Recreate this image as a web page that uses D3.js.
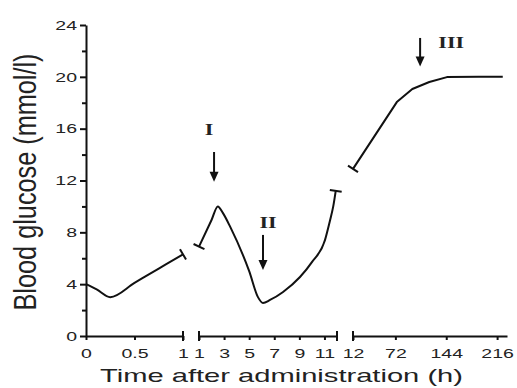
<!DOCTYPE html>
<html>
<head>
<meta charset="utf-8">
<script src="https://cdn.jsdelivr.net/npm/d3@7"></script>
<style>
  body { margin: 0; background: #fff; }
  svg { display: block; }
</style>
</head>
<body>
<svg id="chart" width="517" height="388"></svg>
<script>
// y axis
const yTicks = [0, 4, 8, 12, 16, 20, 24]
const yMinorTicks = [2, 6, 10, 14, 18, 22]

// broken time axis, three pieces (hours)
const seg1Domain = [0, 1]
const seg1Ticks = [0, 0.5, 1]
const seg1Time = [0, 0.11, 0.25, 0.5, 0.75, 1]
const seg1Glucose = [4.0, 3.6, 3.0, 4.1, 5.2, 6.3]

const seg2Domain = [1, 12]
const seg2Ticks = [1, 3, 5, 7, 9, 11]
const seg2Time = [1, 2.0, 2.5, 2.9, 3.5, 5.0, 5.7, 6.1, 6.66, 7.7, 9.05, 10.0, 11.04, 11.44, 11.7, 11.9]
const seg2Glucose = [6.9, 8.95, 10.0, 9.5, 8.4, 5.0, 3.0, 2.55, 2.78, 3.4, 4.55, 5.7, 7.4, 8.9, 10.0, 11.2]

const seg3Domain = [12, 230]
const seg3Ticks = [12, 72, 144, 216]
const seg3Time = [12, 74, 96, 120, 145, 190, 224]
const seg3Glucose = [12.9, 18.05, 19.06, 19.6, 19.98, 20.0, 20.0]

// arrows I, II, III
const annotNames = ['I', 'II', 'III']
const annotSeg = [1, 1, 2]
const annotTime = [2.2, 6.1, 107]
const arrowFrom = [14.2, 7.8, 23.0]
const arrowTo = [11.9, 5.1, 20.8]
const labelTime = [1.8, 6.5, 151]
const labelValue = [15.5, 8.3, 22.2]

const sans = 'Liberation Sans, Arial, sans-serif'
const serif = 'Liberation Serif, Times New Roman, serif'
const ink = '#111'

const svg = d3.select('#chart')
const y = d3.scaleLinear().domain([0, 24]).range([336, 25])

const segments = [
  { x: d3.scaleLinear().domain(seg1Domain).range([86, 183]), ticks: seg1Ticks, time: seg1Time, glucose: seg1Glucose, curve: d3.curveMonotoneX, caps: [false, true], axisCaps: [1] },
  { x: d3.scaleLinear().domain(seg2Domain).range([199, 337]), ticks: seg2Ticks, time: seg2Time, glucose: seg2Glucose, curve: d3.curveMonotoneX, caps: [true, true], axisCaps: [1, 12] },
  { x: d3.scaleLinear().domain(seg3Domain).range([353, 507]), ticks: seg3Ticks, time: seg3Time, glucose: seg3Glucose, curve: d3.curveLinear, caps: [true, false], axisCaps: [12] },
]

const tickStretch = 1.5

// y axis
const yAxis = svg.append('g').attr('transform', 'translate(86,0)')
yAxis.call(d3.axisLeft(y).tickValues(yTicks).tickSize(6).tickSizeOuter(0))
yAxis.append('g').call(d3.axisLeft(y).tickValues(yMinorTicks).tickSize(4).tickFormat(''))
  .select('.domain').remove()
yAxis.selectAll('path, line').attr('stroke', ink).attr('stroke-width', 2)
yAxis.selectAll('text')
  .attr('font-family', sans)
  .attr('font-size', 13)
  .attr('fill', '#222')
  .attr('x', -9 / tickStretch)
  .attr('transform', `scale(${tickStretch},1)`)

// x axis pieces
segments.forEach((s) => {
  const g = svg.append('g').attr('transform', `translate(0,${y(0)})`)
  g.call(d3.axisBottom(s.x).tickValues(s.ticks).tickSize(4).tickSizeOuter(0).tickFormat(d3.format('~g')))
  g.selectAll('path, line').attr('stroke', ink).attr('stroke-width', 2)
  g.selectAll('text')
    .attr('font-family', sans)
    .attr('font-size', 13)
    .attr('fill', '#222')
    .attr('y', 13)
    .attr('transform', `scale(${tickStretch},1)`)
  g.selectAll('.cap')
    .data(s.axisCaps)
    .join('line')
    .attr('class', 'cap')
    .attr('x1', (d) => s.x(d))
    .attr('x2', (d) => s.x(d))
    .attr('y1', -5)
    .attr('y2', 5)
    .attr('stroke', ink)
    .attr('stroke-width', 2)
})

// glucose curve
const plot = svg.append('g')
segments.forEach((s) => {
  const pts = s.time.map((t, i) => [s.x(t), y(s.glucose[i])])
  plot.append('path')
    .attr('d', d3.line().curve(s.curve)(pts))
    .attr('fill', 'none')
    .attr('stroke', ink)
    .attr('stroke-width', 2)
    .attr('stroke-linejoin', 'round')

  // little perpendicular bars where the curve is broken
  const ends = [[pts[0], pts[1]], [pts[pts.length - 1], pts[pts.length - 2]]]
  ends.forEach(([p, q], k) => {
    if (!s.caps[k]) return
    const dx = q[0] - p[0]
    const dy = q[1] - p[1]
    const len = Math.hypot(dx, dy)
    const nx = -dy / len * 6
    const ny = dx / len * 6
    plot.append('line')
      .attr('x1', p[0] - nx).attr('y1', p[1] - ny)
      .attr('x2', p[0] + nx).attr('y2', p[1] + ny)
      .attr('stroke', ink)
      .attr('stroke-width', 2)
  })
})

// arrows and roman labels
const notes = svg.append('g')
annotNames.forEach((name, i) => {
  const sx = segments[annotSeg[i]].x
  const ax = sx(annotTime[i])
  const y0 = y(arrowFrom[i])
  const y1 = y(arrowTo[i])
  notes.append('line')
    .attr('x1', ax).attr('x2', ax)
    .attr('y1', y0).attr('y2', y1 - 8)
    .attr('stroke', ink)
    .attr('stroke-width', 2)
  notes.append('path')
    .attr('d', `M${ax - 4.5},${y1 - 10}L${ax + 4.5},${y1 - 10}L${ax},${y1}Z`)
    .attr('fill', ink)
  const lx = sx(labelTime[i])
  notes.append('text')
    .attr('transform', `translate(${lx},${y(labelValue[i])}) scale(1.3,1)`)
    .attr('text-anchor', 'middle')
    .attr('font-family', serif)
    .attr('font-weight', 'bold')
    .attr('font-size', 17)
    .attr('fill', '#222')
    .text(name)
})

// axis titles
svg.append('text')
  .attr('transform', 'translate(36,182) scale(1.45,1) rotate(-90)')
  .attr('text-anchor', 'middle')
  .attr('font-family', sans)
  .attr('font-size', 22)
  .attr('fill', '#222')
  .attr('textLength', 257)
  .attr('lengthAdjust', 'spacingAndGlyphs')
  .text('Blood glucose (mmol/l)')

svg.append('text')
  .attr('x', 281.5)
  .attr('y', 382)
  .attr('text-anchor', 'middle')
  .attr('font-family', sans)
  .attr('font-size', 19)
  .attr('fill', '#222')
  .attr('textLength', 363)
  .attr('lengthAdjust', 'spacingAndGlyphs')
  .text('Time after administration (h)')
</script>
</body>
</html>
